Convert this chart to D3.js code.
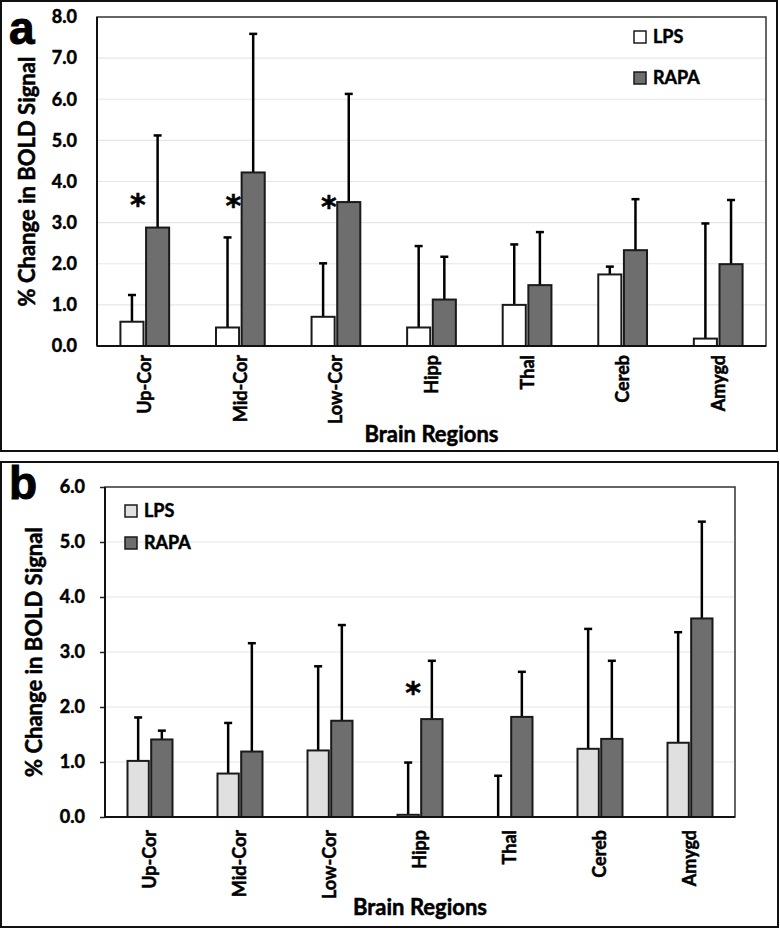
<!DOCTYPE html>
<html>
<head>
<meta charset="utf-8">
<script src="https://cdn.jsdelivr.net/npm/d3@7"></script>
<style>
  body { margin: 0; background: #fff; }
  text { font-family: Lato, "Open Sans", sans-serif; font-weight: bold; fill: #000;
         stroke: #000; stroke-width: 0.5px; }
</style>
</head>
<body>
<div id="chart"></div>
<script>
// categories and series
const regions = ["Up-Cor", "Mid-Cor", "Low-Cor", "Hipp", "Thal", "Cereb", "Amygd"];
const series = ["LPS", "RAPA"];

// panel a values (mean and upper error)
const aLPS = [0.59, 0.45, 0.71, 0.45, 1.00, 1.74, 0.18];
const aLPSErr = [0.65, 2.19, 1.30, 1.98, 1.47, 0.19, 2.80];
const aRAPA = [2.88, 4.22, 3.50, 1.13, 1.48, 2.33, 1.99];
const aRAPAErr = [2.24, 3.37, 2.63, 1.04, 1.29, 1.24, 1.56];
const aTicks = [0, 1, 2, 3, 4, 5, 6, 7, 8];
const aStars = [["Up-Cor", 3.65], ["Mid-Cor", 3.62], ["Low-Cor", 3.6]];

// panel b values
const bLPS = [1.02, 0.79, 1.21, 0.04, 0.00, 1.24, 1.35];
const bLPSErr = [0.79, 0.92, 1.53, 0.95, 0.75, 2.18, 2.01];
const bRAPA = [1.41, 1.19, 1.75, 1.78, 1.82, 1.42, 3.61];
const bRAPAErr = [0.16, 1.97, 1.74, 1.06, 0.82, 1.42, 1.76];
const bTicks = [0, 1, 2, 3, 4, 5, 6];
const bStars = [["Hipp", 2.42]];

const svg = d3.select("#chart").append("svg")
  .attr("width", 780)
  .attr("height", 929);

function drawPanel(cfg) {
  const g = svg.append("g");

  // outer frame
  g.append("rect")
    .attr("x", cfg.frame[0]).attr("y", cfg.frame[1])
    .attr("width", cfg.frame[2]).attr("height", cfg.frame[3])
    .attr("fill", "none").attr("stroke", "#111").attr("stroke-width", 2);

  g.append("text")
    .attr("x", cfg.letterPos[0]).attr("y", cfg.letterPos[1])
    .style("font-family", "'Liberation Sans', Arial, sans-serif")
    .style("font-size", "46px")
    .style("stroke-width", "1px")
    .text(cfg.letter);

  const p = cfg.plot;
  const y = d3.scaleLinear().domain([0, d3.max(cfg.ticks)]).range([p.bottom, p.top]);
  const x = d3.scaleBand().domain(regions).range([p.left, p.right])
    .paddingInner(cfg.pad).paddingOuter(cfg.pad / 2);
  const xs = d3.scaleBand().domain(series).range([0, x.bandwidth()]).paddingInner(0.1);

  // gridlines
  g.append("g").selectAll("line")
    .data(cfg.ticks.slice(1, -1))
    .join("line")
    .attr("x1", p.left).attr("x2", p.right)
    .attr("y1", d => y(d)).attr("y2", d => y(d))
    .attr("stroke", "#e6e6e6").attr("stroke-width", 1.2);

  // plot border
  g.append("rect")
    .attr("x", p.left).attr("y", p.top)
    .attr("width", p.right - p.left).attr("height", p.bottom - p.top)
    .attr("fill", "none").attr("stroke", "#333").attr("stroke-width", 1.5);

  const rows = regions.map((r, i) => ({
    region: r,
    vals: [
      { s: "LPS", v: cfg.lps[i], e: cfg.lpsErr[i] },
      { s: "RAPA", v: cfg.rapa[i], e: cfg.rapaErr[i] }
    ]
  }));
  const fills = { LPS: cfg.lpsFill, RAPA: "#6e6e6e" };

  const groups = g.append("g").selectAll("g")
    .data(rows)
    .join("g")
    .attr("transform", d => `translate(${x(d.region)},0)`);

  // error bars (upper only)
  const eb = groups.selectAll("g.err")
    .data(d => d.vals)
    .join("g").attr("class", "err");
  eb.append("line")
    .attr("x1", d => xs(d.s) + xs.bandwidth() / 2)
    .attr("x2", d => xs(d.s) + xs.bandwidth() / 2)
    .attr("y1", d => y(d.v)).attr("y2", d => y(d.v + d.e))
    .attr("stroke", "#000").attr("stroke-width", 2.5);
  eb.append("line")
    .attr("x1", d => xs(d.s) + xs.bandwidth() / 2 - 4)
    .attr("x2", d => xs(d.s) + xs.bandwidth() / 2 + 4)
    .attr("y1", d => y(d.v + d.e)).attr("y2", d => y(d.v + d.e))
    .attr("stroke", "#000").attr("stroke-width", 2.5);

  groups.selectAll("rect")
    .data(d => d.vals)
    .join("rect")
    .attr("x", d => xs(d.s))
    .attr("y", d => y(d.v))
    .attr("width", xs.bandwidth())
    .attr("height", d => p.bottom - y(d.v))
    .attr("fill", d => fills[d.s])
    .attr("stroke", "#1a1a1a").attr("stroke-width", 2);

  // asterisks
  g.append("g").selectAll("text")
    .data(cfg.stars)
    .join("text")
    .attr("x", d => x(d[0]) + x.bandwidth() / 2 - 7)
    .attr("y", d => y(d[1]) + 19)
    .attr("text-anchor", "middle")
    .style("font-family", "'DejaVu Sans', sans-serif")
    .style("font-size", "30px")
    .text("*");

  // y axis
  const yAxis = g.append("g")
    .attr("transform", `translate(${p.left},0)`)
    .call(d3.axisLeft(y).tickValues(cfg.ticks).tickFormat(d3.format(".1f"))
      .tickSize(cfg.tickLen).tickPadding(cfg.tickPad));
  yAxis.select(".domain").remove();
  yAxis.selectAll("line").attr("stroke", "#222").attr("stroke-width", 1.5);
  yAxis.selectAll("text")
    .attr("fill", "#000")
    .style("font-size", "18px")
    .style("font-family", "Lato, sans-serif");

  // x axis with rotated labels
  const xAxis = g.append("g")
    .attr("transform", `translate(0,${p.bottom})`)
    .call(d3.axisBottom(x).tickSize(0));
  xAxis.select(".domain").remove();
  xAxis.selectAll("text")
    .attr("fill", "#000")
    .attr("transform", "rotate(-90)")
    .attr("x", -cfg.labelGap)
    .attr("y", 0)
    .attr("dy", "0.36em")
    .style("text-anchor", "end")
    .style("font-size", "18px")
    .style("font-family", "Lato, sans-serif");

  // axis lines
  g.append("line")
    .attr("x1", p.left).attr("x2", p.left)
    .attr("y1", p.top).attr("y2", p.bottom)
    .attr("stroke", "#111").attr("stroke-width", 2);
  g.append("line")
    .attr("x1", p.left).attr("x2", p.right)
    .attr("y1", p.bottom).attr("y2", p.bottom)
    .attr("stroke", "#111").attr("stroke-width", 2);

  // titles
  g.append("text")
    .attr("transform", `translate(${cfg.yTitleX},${(p.top + p.bottom) / 2}) rotate(-90)`)
    .attr("text-anchor", "middle")
    .style("font-size", "22px")
    .text("% Change in BOLD Signal");

  g.append("text")
    .attr("x", (p.left + p.right) / 2)
    .attr("y", cfg.xTitleY)
    .attr("text-anchor", "middle")
    .style("font-size", "22px")
    .text("Brain Regions");

  // legend
  const leg = g.append("g").selectAll("g")
    .data(series)
    .join("g")
    .attr("transform", (d, i) => `translate(${cfg.legend[0]},${cfg.legend[1] + i * cfg.legend[2]})`);
  leg.append("rect")
    .attr("width", 12).attr("height", 12)
    .attr("fill", d => fills[d])
    .attr("stroke", "#1a1a1a").attr("stroke-width", 1.5);
  leg.append("text")
    .attr("x", 19).attr("y", 6)
    .attr("dy", "0.36em")
    .style("font-size", "18px")
    .text(d => d);
}

drawPanel({
  frame: [1, 1, 776, 450],
  letter: "a", letterPos: [9, 44],
  plot: { left: 97, right: 766, top: 17, bottom: 346 },
  ticks: aTicks, pad: 0.49,
  lps: aLPS, lpsErr: aLPSErr, rapa: aRAPA, rapaErr: aRAPAErr,
  lpsFill: "#ffffff",
  stars: aStars,
  tickLen: 0, tickPad: 20,
  labelGap: 9,
  yTitleX: 35, xTitleY: 442,
  legend: [634, 31, 41]
});

drawPanel({
  frame: [1, 462, 777, 465],
  letter: "b", letterPos: [9, 499],
  plot: { left: 105, right: 735, top: 487, bottom: 817 },
  ticks: bTicks, pad: 0.5,
  lps: bLPS, lpsErr: bLPSErr, rapa: bRAPA, rapaErr: bRAPAErr,
  lpsFill: "#e0e0e0",
  stars: bStars,
  tickLen: 5, tickPad: 15,
  labelGap: 13,
  yTitleX: 42, xTitleY: 915,
  legend: [125, 505, 32]
});
</script>
</body>
</html>
